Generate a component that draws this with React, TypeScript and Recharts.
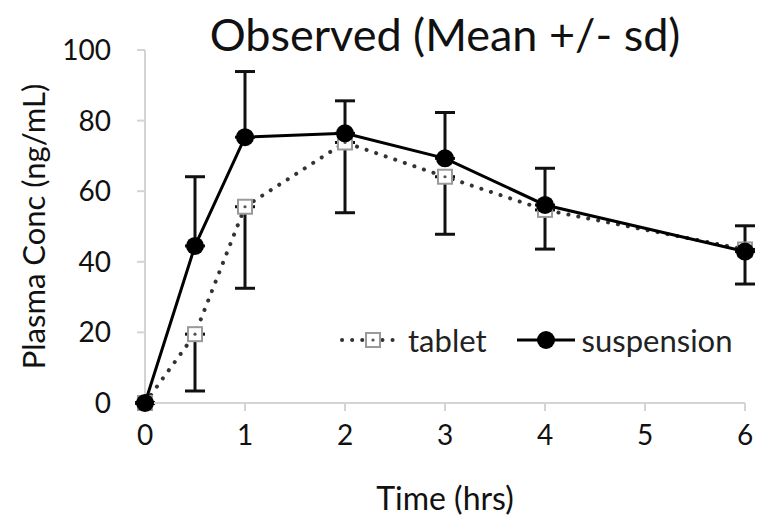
import React from 'react'
import { LineChart, Line, XAxis, YAxis, ErrorBar, Label } from 'recharts'

const times = [0, 0.5, 1, 2, 3, 4, 6]
const tablet = [0, 19.5, 55.6, 73.8, 64.1, 54.7, 43.5]
const tabletSd = [0, 16.1, 23.1, 19.9, 16.3, 11.1, 9.8]
const suspension = [0, 44.5, 75.3, 76.4, 69.3, 56.1, 42.9]
const suspensionSd = [0, 19.6, 18.6, 9.2, 13, 10.4, 7.3]
const xTicks = [0, 1, 2, 3, 4, 5, 6]
const yTicks = [0, 20, 40, 60, 80, 100]

// tablet sd drawn downward only, suspension sd upward only
const data = times.map((t, i) => ({
  time: t,
  tablet: tablet[i],
  tabletErr: [tabletSd[i], 0],
  suspension: suspension[i],
  suspensionErr: [0, suspensionSd[i]],
}))

const font = 'Lato, "Open Sans", sans-serif'
const axisGrey = '#d4d4d4'

const SquareDot = (props: any) => {
  const { cx, cy } = props
  if (cx == null || cy == null) return null
  return (
    <g>
      <rect x={cx - 7} y={cy - 7} width={14} height={14} fill="#fff" stroke="#9a9a9a" strokeWidth={2} />
      <circle cx={cx} cy={cy} r={1.6} fill="#555" />
    </g>
  )
}

const ChartLegend = () => (
  <div
    style={{
      position: 'absolute', left: 338, top: 320, display: 'flex', alignItems: 'center',
      fontFamily: font, fontSize: 31, color: '#222', lineHeight: '40px',
    }}
  >
    <svg width={64} height={20}>
      <line x1={4} y1={10} x2={62} y2={10} stroke="#333" strokeWidth={4} strokeDasharray="0.1 10" strokeLinecap="round" />
      <rect x={28} y={3} width={14} height={14} fill="#fff" stroke="#9a9a9a" strokeWidth={2} />
      <circle cx={35} cy={10} r={1.6} fill="#555" />
    </svg>
    <span style={{ marginLeft: 6, marginRight: 30 }}>tablet</span>
    <svg width={58} height={20}>
      <line x1={0} y1={10} x2={58} y2={10} stroke="#000" strokeWidth={3} />
      <circle cx={29} cy={10} r={9} fill="#000" />
    </svg>
    <span style={{ marginLeft: 7 }}>suspension</span>
  </div>
)

export default function App() {
  return (
    <div style={{ position: 'absolute', left: 0, top: 0, width: 762, height: 518, background: '#fff' }}>
      <div
        style={{
          position: 'absolute', left: 145, width: 600, top: 8, textAlign: 'center',
          fontFamily: font, fontSize: 45, color: '#111', lineHeight: '52px',
        }}
      >
        Observed (Mean +/- sd)
      </div>
      <LineChart width={762} height={518} data={data} margin={{ top: 50, right: 17, bottom: 0, left: 0 }}>
        <XAxis
          dataKey="time"
          type="number"
          domain={[0, 6]}
          ticks={xTicks}
          height={115}
          stroke={axisGrey}
          strokeWidth={2}
          tickSize={8}
          tickMargin={14}
          tick={{ fill: '#111', fontSize: 28, fontFamily: font }}
        >
          <Label value="Time (hrs)" position="insideBottom" offset={8} style={{ fill: '#111', fontSize: 32, fontFamily: font }} />
        </XAxis>
        <YAxis
          type="number"
          domain={[0, 100]}
          ticks={yTicks}
          width={145}
          stroke={axisGrey}
          strokeWidth={2}
          tickSize={8}
          tickMargin={26}
          tick={{ fill: '#111', fontSize: 28, fontFamily: font }}
        >
          <Label
            value="Plasma Conc (ng/mL)"
            angle={-90}
            position="insideLeft"
            offset={34}
            style={{ fill: '#111', fontSize: 31, fontFamily: font, textAnchor: 'middle' }}
          />
        </YAxis>
        <Line
          dataKey="tablet"
          stroke="#333"
          strokeWidth={4}
          strokeDasharray="0.1 10"
          strokeLinecap="round"
          dot={<SquareDot />}
          activeDot={false}
          isAnimationActive={false}
        >
          <ErrorBar dataKey="tabletErr" direction="y" width={10} strokeWidth={3} stroke="#111" />
        </Line>
        <Line
          dataKey="suspension"
          stroke="#000"
          strokeWidth={3}
          dot={{ r: 9, fill: '#000', stroke: '#000', strokeWidth: 0 }}
          activeDot={false}
          isAnimationActive={false}
        >
          <ErrorBar dataKey="suspensionErr" direction="y" width={10} strokeWidth={3} stroke="#111" />
        </Line>
      </LineChart>
      <ChartLegend />
    </div>
  )
}
